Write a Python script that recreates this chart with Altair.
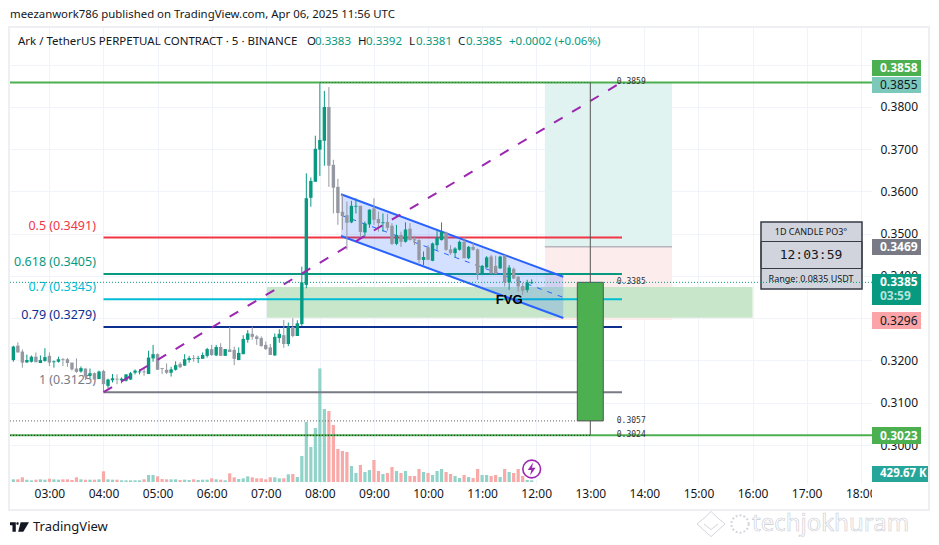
import altair as alt
import pandas as pd

FONT = "Noto Sans"
MONO = "DejaVu Sans Mono"

# ---- candles: first candle is 20 bars before 04:00, one bar every 5 minutes
highs = [.3235,.3243,.3226,.3214,.3212,.3219,.3212,.3229,.3219,.3200,.3209,.3206,.3206,.3195,.3205,.3186,.3181,.3181,.3172,.3176,
         .3178,.3157,.3168,.3167,.3160,.3168,.3173,.3179,.3179,.3181,
         .3223,.3237,.3217,.3182,.3193,.3185,.3198,.3196,.3215,.3211,
         .3213,.3211,.3219,.3230,.3237,.3237,.3241,.3227,.3279,.3233,
         .3231,.3260,.3272,.3280,.3260,.3257,.3245,.3239,.3264,.3274,
         .3296,.3290,.3300,.3295,.3422,.3643,.3633,.3732,.3856,.3838,
         .3847,.3675,.3630,.3593,.3576,.3578,.3584,.3566,.3529,.3558,
         .3584,.3552,.3548,.3547,.3525,.3521,.3505,.3527,.3525,.3495,
         .3487,.3458,.3473,.3479,.3509,.3527,.3505,.3473,.3468,.3484,
         .3493,.3471,.3479,.3465,.3426,.3447,.3450,.3448,.3448,.3450,
         .3426,.3420,.3400,.3384,.3391,.3392]
tops = [.3233,.3235,.3221,.3201,.3209,.3209,.3201,.3208,.3211,.3198,.3203,.3203,.3203,.3195,.3181,.3182,.3181,.3170,.3170,.3174,
        .3175,.3155,.3158,.3157,.3157,.3167,.3170,.3176,.3174,.3174,
        .3207,.3215,.3215,.3182,.3178,.3179,.3189,.3192,.3203,.3206,
        .3206,.3206,.3213,.3227,.3227,.3232,.3232,.3227,.3226,.3225,
        .3218,.3251,.3264,.3263,.3257,.3253,.3237,.3231,.3256,.3263,
        .3260,.3280,.3279,.3288,.3385,.3584,.3625,.3701,.3722,.3800,
        .3800,.3663,.3611,.3552,.3544,.3566,.3566,.3566,.3524,.3557,
        .3560,.3535,.3527,.3528,.3519,.3497,.3497,.3510,.3512,.3487,
        .3485,.3445,.3468,.3477,.3491,.3505,.3503,.3463,.3465,.3481,
        .3481,.3469,.3469,.3463,.3424,.3444,.3446,.3424,.3446,.3448,
        .3420,.3417,.3398,.3376,.3385,.3385]
bots = [.3201,.3219,.3195,.3195,.3197,.3196,.3194,.3199,.3195,.3196,.3197,.3201,.3194,.3179,.3173,.3174,.3162,.3164,.3155,.3156,
        .3144,.3140,.3153,.3155,.3153,.3152,.3155,.3171,.3172,.3172,
        .3168,.3205,.3178,.3180,.3171,.3171,.3178,.3184,.3188,.3201,
        .3204,.3204,.3204,.3211,.3213,.3212,.3211,.3211,.3220,.3204,
        .3201,.3215,.3249,.3256,.3251,.3234,.3227,.3213,.3212,.3253,
        .3239,.3239,.3258,.3258,.3286,.3379,.3585,.3623,.3699,.3720,
        .3661,.3609,.3549,.3543,.3526,.3527,.3564,.3504,.3503,.3522,
        .3533,.3525,.3525,.3514,.3476,.3476,.3481,.3481,.3485,.3484,
        .3438,.3438,.3438,.3436,.3473,.3485,.3462,.3454,.3454,.3462,
        .3442,.3442,.3462,.3405,.3405,.3420,.3406,.3405,.3418,.3385,
        .3385,.3394,.3375,.3365,.3367,.3383]
lows = [.3197,.3219,.3183,.3195,.3195,.3196,.3194,.3197,.3187,.3183,.3195,.3187,.3185,.3176,.3171,.3171,.3154,.3157,.3155,.3156,
        .3125,.3134,.3148,.3144,.3146,.3150,.3154,.3167,.3167,.3164,
        .3168,.3197,.3178,.3168,.3168,.3162,.3176,.3182,.3187,.3195,
        .3197,.3194,.3204,.3207,.3211,.3211,.3211,.3211,.3220,.3189,
        .3201,.3215,.3242,.3249,.3237,.3233,.3225,.3213,.3211,.3242,
        .3230,.3234,.3255,.3258,.3282,.3371,.3564,.3623,.3637,.3661,
        .3611,.3548,.3521,.3509,.3462,.3525,.3548,.3489,.3493,.3514,
        .3521,.3505,.3505,.3507,.3473,.3473,.3469,.3479,.3484,.3473,
        .3430,.3426,.3438,.3435,.3462,.3484,.3459,.3450,.3443,.3460,
        .3442,.3440,.3460,.3391,.3402,.3420,.3405,.3405,.3417,.3375,
        .3367,.3393,.3363,.3355,.3361,.3381]
dirs = ("GDDGGDGGDGGDDDDGDGDG"
        "DGGDGGGGGD"
        "GGDDDGGDGG"
        "DGGGDGDGDD"
        "GGGDDDDDGG"
        "DGDGGGGGGG"
        "DDDDDGGDGG"
        "DDGDDGDGDD"
        "DGDGGGDDGG"
        "DGDDGGDDGD"
        "GDDDGG")
volumes = [670,670,1170,580,420,580,670,580,830,670,580,670,670,500,1170,670,580,580,580,670,
           2670,670,580,580,420,420,420,420,420,670,
           1750,1750,1420,750,670,670,670,500,580,500,
           670,500,580,580,920,670,580,420,2170,1170,
           750,920,1420,1170,920,920,670,1170,1170,920,
           920,1920,2000,1250,6500,15000,8750,13500,28400,18250,
           17750,14250,8250,7750,7500,4000,2250,4250,2500,3000,
           5500,2750,2000,2250,3750,2750,2250,2750,1500,1500,
           3250,2500,2250,1750,2750,3250,2500,2000,1500,1000,
           1750,1250,1000,3250,1750,1750,1500,1750,1250,3250,
           2500,2250,3250,1500,500,430]

hour_ticks = list(range(3, 19))
price_ticks = [.30,.31,.32,.33,.34,.35,.36,.37,.38,.39]

fib_prices = [.3491,.3405,.3345,.3279,.3125]
fib_labels = ["0.5 (0.3491)","0.618 (0.3405)","0.7 (0.3345)","0.79 (0.3279)","1 (0.3125)"]
fib_colors = ["#f23645","#089981","#00bcd4","#0d2f8f","#787b86"]

X_MIN, X_MAX = 2.2714, 18.208
Y_MIN, Y_MAX = 0.29077, 0.39893
xs = alt.Scale(domain=[X_MIN, X_MAX], nice=False, zero=False, padding=0)
ys = alt.Scale(domain=[Y_MIN, Y_MAX], nice=False, zero=False, padding=0)
vs = alt.Scale(domain=[-500, 113750], nice=False, zero=False, padding=0)
AX_X = alt.Axis(
    values=hour_ticks, title=None, grid=True, gridColor="#f0f3fa", gridWidth=1,
    domain=False, ticks=False, labelPadding=4, labelFontSize=12, labelFont=FONT,
    labelColor="#131722", labelOverlap=False, labelFlush=False,
    labelExpr="(datum.value < 10 ? '0' : '') + datum.value + ':00'")
AX_Y = alt.Axis(
    orient="right", values=price_ticks, title=None, format=".4f", grid=True,
    gridColor="#f0f3fa", gridWidth=1, domain=False, ticks=False, labelPadding=8,
    labelFontSize=12, labelFont=FONT, labelColor="#131722", labelOverlap=False,
    labelFlush=False)
NOAX_X = dict(scale=xs, axis=AX_X, title=None)
NOAX_Y = dict(scale=ys, axis=AX_Y, title=None)

n = len(highs)
hours = [4 + (i - 20) * 5 / 60 for i in range(n)]
df = pd.DataFrame({
    "h": hours, "hi": highs, "lo": lows, "t": tops, "b": bots,
    "vol": volumes, "zero": [0] * n,
    "c": ["#089981" if d == "G" else "#9598a1" for d in dirs],
    "vc": ["#92d3c9" if d == "G" else "#f8a9a8" for d in dirs],
})

def hline(price, h0, h1, color, width=2, dash=None):
    kw = dict(color=color, strokeWidth=width)
    if dash:
        kw["strokeDash"] = dash
    d = pd.DataFrame({"a": [h0], "b": [h1], "p": [price]})
    return alt.Chart(d).mark_rule(**kw).encode(
        x=alt.X("a:Q", **NOAX_X), x2="b:Q", y=alt.Y("p:Q", **NOAX_Y))

def box(h0, h1, p0, p1, fill, opacity=1.0, **kw):
    d = pd.DataFrame({"a": [h0], "b": [h1], "p": [p0], "q": [p1]})
    return alt.Chart(d).mark_rect(fill=fill, opacity=opacity, **kw).encode(
        x=alt.X("a:Q", **NOAX_X), x2="b:Q", y=alt.Y("p:Q", **NOAX_Y), y2="q:Q")

def seg(h0, h1, p0, p1, color, width=2, dash=None):
    d = pd.DataFrame({"h": [h0, h1], "p": [p0, p1]})
    kw = dict(color=color, strokeWidth=width)
    if dash:
        kw["strokeDash"] = dash
    return alt.Chart(d).mark_line(**kw).encode(
        x=alt.X("h:Q", **NOAX_X), y=alt.Y("p:Q", **NOAX_Y))

def txt(s, x, y, size=12, color="#131722", align="left", weight="normal", font=FONT, **kw):
    """Screen annotation, x and y in page pixels."""
    return alt.Chart(pd.DataFrame({"s": [s]})).mark_text(
        fontSize=size, color=color, align=align, baseline="middle",
        fontWeight=weight, font=font, **kw
    ).encode(x=alt.value(x - 10), y=alt.value(y - 27), text="s:N")

def ptxt(s, h, p, size=12, color="#131722", align="left", weight="normal", font=FONT, dy=0):
    d = pd.DataFrame({"s": [s], "h": [h], "p": [p]})
    return alt.Chart(d).mark_text(
        fontSize=size, color=color, align=align, baseline="middle",
        fontWeight=weight, font=font, dy=dy
    ).encode(x=alt.X("h:Q", **NOAX_X), y=alt.Y("p:Q", **NOAX_Y), text="s:N")

def scr_rect(x0, x1, y0, y1, **kw):
    return alt.Chart(pd.DataFrame({"a": [0]})).mark_rect(**kw).encode(
        x=alt.value(x0 - 10), x2=alt.value(x1 - 10),
        y=alt.value(y0 - 27), y2=alt.value(y1 - 27))

def badge(s, y0, y1, fill, color="#ffffff", x1=921, weight="bold", size=12):
    return [scr_rect(872, x1, y0, y1, fill=fill),
            txt(s, 880, (y0 + y1) / 2, size, color, weight=weight)]

vol = alt.Chart(df).mark_bar(size=3.2, orient="vertical").encode(
    x=alt.X("h:Q", **NOAX_X),
    y=alt.Y("vol:Q", scale=vs, axis=None, title=None),
    y2="zero:Q",
    color=alt.Color("vc:N", scale=None),
)

wicks = alt.Chart(df).mark_rule(strokeWidth=1).encode(
    x=alt.X("h:Q", **NOAX_X), y=alt.Y("hi:Q", **NOAX_Y), y2="lo:Q",
    color=alt.Color("c:N", scale=None))
bodies = alt.Chart(df).mark_bar(size=3.4, orient="vertical").encode(
    x=alt.X("h:Q", **NOAX_X), y=alt.Y("t:Q", **NOAX_Y), y2="b:Q",
    color=alt.Color("c:N", scale=None))

# channel
CH_H = [8.391, 12.5]
CH_TOP = [.35934, .33983]
CH_MID = [.35440, .33494]
CH_BOT = [.34947, .33006]
ch_fill = alt.Chart(pd.DataFrame({"h": CH_H, "p": CH_TOP, "q": CH_BOT})).mark_area(
    color="#2962ff", opacity=0.2).encode(
    x=alt.X("h:Q", **NOAX_X), y=alt.Y("p:Q", **NOAX_Y), y2="q:Q")

layers = [
    box(12.16, 14.51, .3858, .3469, "#e0f3f0"),
    box(12.16, 14.51, .3469, .3296, "#fdecec"),
    box(7.02, 16.0, .3374, .3301, "#c8e6c9"),
    hline(.3469, 12.16, 14.51, "#9598a1", 1),
    hline(.3858, X_MIN, X_MAX, "#4caf50", 2),
    hline(.3023, X_MIN, X_MAX, "#4caf50", 2),
    hline(.3858, 8.0, 13.0, "#2b6e3a", 1, [1, 2]),
    hline(.3023, X_MIN, 13.0, "#2b2b2b", 1, [1, 2]),
    hline(.3057, X_MIN, 12.76, "#666666", 1, [1, 2]),
]
for p, c in zip(fib_prices, fib_colors):
    layers.append(hline(p, 4.0, 13.586, c, 2))
layers += [ptxt(l, 3.86, p, 12.5, c, "right", dy=-12)
           for l, p, c in zip(fib_labels, fib_prices, fib_colors)]
layers += [
    ch_fill,
    seg(CH_H[0], CH_H[1], CH_TOP[0], CH_TOP[1], "#2962ff", 2),
    seg(CH_H[0], CH_H[1], CH_BOT[0], CH_BOT[1], "#2962ff", 2),
    seg(CH_H[0], CH_H[1], CH_MID[0], CH_MID[1], "#2962ff", 1, [5, 6]),
    wicks, bodies,
    seg(4.0, 13.586, .3125, .3859, "#9c27b0", 2, [10, 11]),
    ptxt("FVG", 11.5, .3343, 13, "#000000", "center", "bold", "Liberation Sans"),
]
wick_big = alt.Chart(pd.DataFrame({"h": [13.0], "p": [.3858], "q": [.3024]})).mark_rule(
    color="#555555", strokeWidth=1).encode(
    x=alt.X("h:Q", **NOAX_X), y=alt.Y("p:Q", **NOAX_Y), y2="q:Q")
layers += [wick_big,
           box(12.76, 13.24, .3385, .3057, "#4caf50", stroke="#555555", strokeWidth=1)]
layers += [ptxt(s, 13.49, p, 8, "#333333", font=MONO)
           for s, p in [("0.3859", .3859), ("0.3385", .3385), ("0.3057", .3057), ("0.3024", .3024)]]

# info panel
layers += [
    scr_rect(761, 862, 222, 289, fill="#d1d4dc", stroke="#363a45", strokeWidth=1.5),
    scr_rect(761, 862, 241.5, 268.5, fillOpacity=0, stroke="#363a45", strokeWidth=1),
    txt("1D CANDLE PO3°", 811, 232, 9, "#131722", "center"),
    txt("12:03:59", 811, 254.5, 13, "#131722", "center", font=MONO),
    txt("Range: 0.0835 USDT", 811, 279, 9, "#131722", "center"),
    hline(.3385, X_MIN, X_MAX, "#089981", 1, [1, 2]),
]

# badges on price axis
layers += badge("0.3858", 60, 76, "#4caf50")
layers += badge("0.3855", 77, 93, "#7cc9bb", "#131722", weight="normal")
layers += badge("0.3469", 239, 255, "#787b86")
layers += [scr_rect(872, 921, 274, 305, fill="#089981"),
           txt("0.3385", 880, 282, 12, "#ffffff", weight="bold"),
           txt("03:59", 880, 296, 12, "#b5e3da", weight="bold")]
layers += badge("0.3296", 312, 329, "#fca5a8", "#131722", weight="normal")
layers += badge("0.3023", 427, 444, "#4caf50")
layers += badge("429.67 K", 466, 482, "#26a69a", x1=928, size=11.5)

# cover clipping the last time label, frame
layers += [
    scr_rect(872, 880, 485, 507, fill="#ffffff"),
    scr_rect(9, 929, 27, 510, fillOpacity=0, stroke="#eeeff2", strokeWidth=2),
]

# header
layers += [
    txt("meezanwork786 published on TradingView.com, Apr 06, 2025 11:56 UTC", 10, 15, 11.4, "#131722"),
    txt("Ark / TetherUS PERPETUAL CONTRACT · 5 · BINANCE", 18, 42, 11.5, "#131722"),
]
legend_up = "#089981"
for lab, xl, val, xv in [("O", 307, "0.3383", 315), ("H", 358, "0.3392", 366),
                         ("L", 409, "0.3381", 416), ("C", 458, "0.3385", 466)]:
    layers += [txt(lab, xl, 42, 11.5, "#131722"), txt(val, xv, 42, 11.5, legend_up)]
layers.append(txt("+0.0002 (+0.06%)", 509, 42, 11.5, legend_up))

# TradingView logo
TV_LOGO = ("M-1,-.5 L-.39,-.5 L-.39,.5 L-.74,.5 L-.74,-.19 L-1,-.19 Z "
           "M-.34,-.37 L-.29,-.5 L-.13,-.5 L-.08,-.37 L-.13,-.24 L-.29,-.24 Z "
           "M.12,-.5 L1,-.5 L.4,.5 L-.14,.5 Z")
layers += [
    alt.Chart(pd.DataFrame({"a": [0]})).mark_point(
        shape=TV_LOGO, size=361, filled=True, fill="#131722", opacity=1, stroke="#131722", strokeWidth=0
    ).encode(x=alt.value(19.5 - 10), y=alt.value(527 - 27)),
    txt("TradingView", 33, 527, 13, "#131722"),
]

# lightning icon
layers += [
    alt.Chart(pd.DataFrame({"a": [0]})).mark_point(
        shape="circle", size=314, filled=True, fill="#ffffff", stroke="#9c27b0", strokeWidth=1.6, opacity=1
    ).encode(x=alt.value(531.7 - 10), y=alt.value(469 - 27)),
    alt.Chart(pd.DataFrame({"a": [0]})).mark_point(
        shape="M.2,-1 L-.6,.15 L-.05,.15 L-.25,1 L.6,-.2 L.05,-.2 Z", size=170,
        filled=True, fill="#9c27b0", strokeWidth=0, opacity=1
    ).encode(x=alt.value(531.7 - 10), y=alt.value(469 - 27)),
]

# watermark
layers += [
    alt.Chart(pd.DataFrame({"a": [0]})).mark_point(
        shape="M-1,0 L-.4,-.5 L0,-.9 L.4,-.5 L1,0 L0,.9 Z M-.5,0 L0,.4 L.5,0",
        size=784, filled=False, stroke="#d3d5da", strokeWidth=1, opacity=1
    ).encode(x=alt.value(711 - 10), y=alt.value(524 - 27)),
    alt.Chart(pd.DataFrame({"a": [0]})).mark_point(
        shape="circle", size=300, filled=False, stroke="#d3d5da", strokeWidth=2, strokeDash=[2, 2], opacity=1
    ).encode(x=alt.value(740 - 10), y=alt.value(524 - 27)),
    txt("techjokhuram", 752, 524, 24, "#ffffff", stroke="#c9ccd2", strokeWidth=0.6),
]

price_group = alt.layer(*layers)
vol_group = alt.layer(vol)

chart = alt.layer(vol_group, price_group).resolve_scale(y="independent").properties(
    width=862, height=457,
    padding={"left": 2, "top": 19, "right": 59, "bottom": 53},
    autosize=alt.AutoSizeParams(type="none"),
    background="#ffffff",
).configure_view(stroke=None)

chart.save("out.html", embed_options={"renderer": "svg", "actions": False})
